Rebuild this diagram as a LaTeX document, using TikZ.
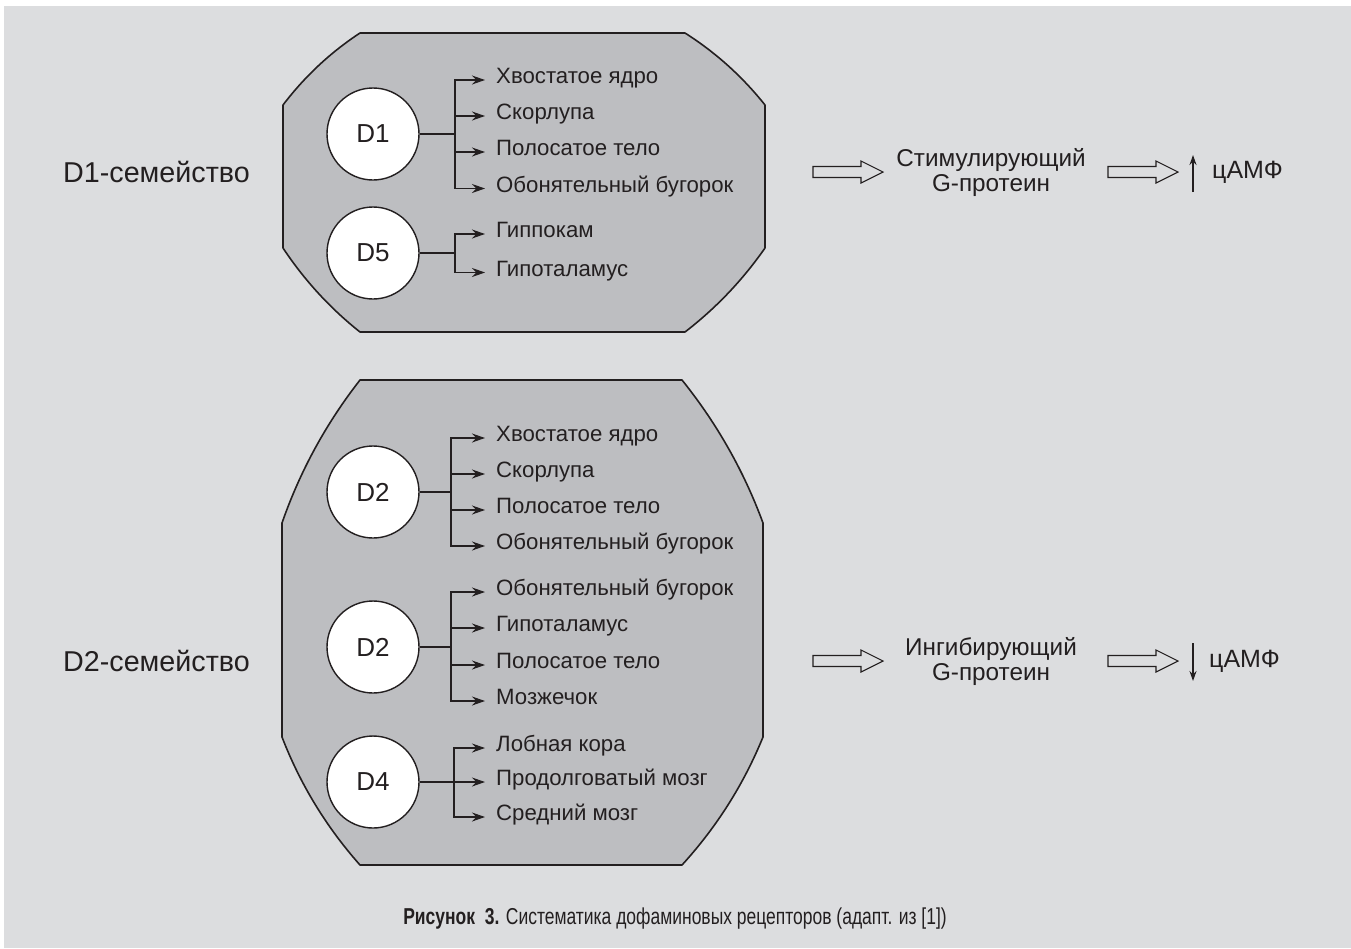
\documentclass[tikz,border=0pt]{standalone}
\usepackage{fontspec}
\setmainfont{Liberation Sans}
\newfontfamily\capfont[FakeStretch=0.76]{Liberation Sans}
\usetikzlibrary{arrows.meta}
\definecolor{bggray}{RGB}{220,221,223}
\definecolor{boxgray}{RGB}{189,190,193}
\definecolor{ink}{RGB}{35,31,32}
\newcommand\hollowarrow[1]{\draw[hollow] (#1) ++(0,-5.5) -- ++(48,0) -- ++(0,-5.5) -- ++(22,11) -- ++(-22,11) -- ++(0,-5.5) -- ++(-48,0) -- cycle;}
\begin{document}
\begin{tikzpicture}[x=1pt,y=-1pt,
  every node/.style={text=ink},
  famlabel/.style={anchor=west, inner sep=0pt, font=\fontsize{28.7}{32}\selectfont},
  rcpt/.style={circle, draw=ink, fill=white, line width=1.4pt, minimum size=92pt, inner sep=0pt, font=\fontsize{26}{30}\selectfont},
  region/.style={anchor=west, inner sep=0pt, text height=13pt, text depth=6pt, font=\fontsize{22.2}{26}\selectfont},
  branch/.style={draw=ink, line width=1.1pt},
  tip/.style={-{Stealth[length=13pt,width=9pt]}, shorten >=11pt},
  container/.style={draw=ink, line width=1.6pt, fill=boxgray, line join=round},
  hollow/.style={draw=ink, line width=1.1pt},
  gtext/.style={align=center, inner sep=0pt, font=\fontsize{24.3}{25}\selectfont},
  camp/.style={anchor=west, inner sep=0pt, font=\fontsize{25}{28}\selectfont},
  thinarrow/.style={draw=ink, line width=2.2pt, -{Stealth[length=10pt,width=7pt]}},
]
\useasboundingbox (0,0) rectangle (1351,948);
\fill[bggray] (4,6) rectangle (1351,948);

% containers
\path[container] (360,33) -- (685,33)
  .. controls (715.7,52.5) and (742.3,76.5) .. (765,105) -- (765,248)
  .. controls (742.6,280.1) and (716,308.1) .. (685,332) -- (360,332)
  .. controls (329.9,308.1) and (304.3,280.1) .. (283,248) -- (283,105)
  .. controls (304.6,76.6) and (330.2,52.6) .. (360,33) -- cycle;
\path[container] (360,380) -- (682,380)
  .. controls (716.8,423.3) and (743.8,470.9) .. (763,523) -- (763,737)
  .. controls (743.6,784.5) and (716.6,827.1) .. (682,865) -- (360,865)
  .. controls (326.3,827) and (300.3,784.4) .. (282,737) -- (282,523)
  .. controls (300.1,471) and (326.1,423.4) .. (360,380) -- cycle;

% family labels
\node[famlabel] (fam1) at (63,172) {D1-семейство};
\node[famlabel] (fam2) at (63,661) {D2-семейство};

% D1
\node[rcpt] (d1) at (373,134) {D1};
\coordinate (j1) at (455,134);
\node[region] (r11) at (496,80) {Хвостатое ядро};
\node[region] (r12) at (496,116) {Скорлупа};
\node[region] (r13) at (496,152) {Полосатое тело};
\node[region] (r14) at (496,188.5) {Обонятельный бугорок};
\draw[branch] (d1) -- (j1);
\foreach \r in {r11,r12,r13,r14} \draw[branch,tip] (j1) |- (\r.west);

% D5
\node[rcpt] (d5) at (373,253) {D5};
\coordinate (j5) at (455,253);
\node[region] (r51) at (496,234) {Гиппокам};
\node[region] (r52) at (496,272.5) {Гипоталамус};
\draw[branch] (d5) -- (j5);
\foreach \r in {r51,r52} \draw[branch,tip] (j5) |- (\r.west);

% D2 (a)
\node[rcpt] (d2a) at (373,492) {D2};
\coordinate (j2a) at (451,492);
\node[region] (r21) at (496,438) {Хвостатое ядро};
\node[region] (r22) at (496,474) {Скорлупа};
\node[region] (r23) at (496,510) {Полосатое тело};
\node[region] (r24) at (496,546) {Обонятельный бугорок};
\draw[branch] (d2a) -- (j2a);
\foreach \r in {r21,r22,r23,r24} \draw[branch,tip] (j2a) |- (\r.west);

% D2 (b)
\node[rcpt] (d2b) at (373,647) {D2};
\coordinate (j2b) at (451,647);
\node[region] (r31) at (496,592) {Обонятельный бугорок};
\node[region] (r32) at (496,628) {Гипоталамус};
\node[region] (r33) at (496,665) {Полосатое тело};
\node[region] (r34) at (496,701) {Мозжечок};
\draw[branch] (d2b) -- (j2b);
\foreach \r in {r31,r32,r33,r34} \draw[branch,tip] (j2b) |- (\r.west);

% D4
\node[rcpt] (d4) at (373,782) {D4};
\coordinate (j4) at (454,782);
\node[region] (r41) at (496,748) {Лобная кора};
\node[region] (r42) at (496,782) {Продолговатый мозг};
\node[region] (r43) at (496,817) {Средний мозг};
\draw[branch,tip] (d4) -- (r42.west);
\foreach \r in {r41,r43} \draw[branch,tip] (j4) |- (\r.west);

% right side, top
\coordinate (h1) at (813,172);
\hollowarrow{h1}
\node[gtext] (g1) at (991,172) {Стимулирующий\\G-протеин};
\coordinate (h2) at (1108,172);
\hollowarrow{h2}
\coordinate (u1) at (1193,192);
\coordinate (u2) at (1193,155);
\draw[thinarrow] (u1) -- (u2);
\node[camp] (c1) at (1212,172) {цАМФ};

% right side, bottom
\coordinate (h3) at (813,661);
\hollowarrow{h3}
\node[gtext] (g2) at (991,661) {Ингибирующий\\G-протеин};
\coordinate (h4) at (1108,661);
\hollowarrow{h4}
\coordinate (v1) at (1193,643);
\coordinate (v2) at (1193,681);
\draw[thinarrow] (v1) -- (v2);
\node[camp] (c2) at (1209,661) {цАМФ};

% caption
\node[inner sep=0pt, font=\capfont\fontsize{23}{27}\selectfont] (cap) at (675,919) {{\bfseries Рисунок\ \ 3.} Систематика дофаминовых рецепторов (адапт. из [1])};
\end{tikzpicture}
\end{document}
